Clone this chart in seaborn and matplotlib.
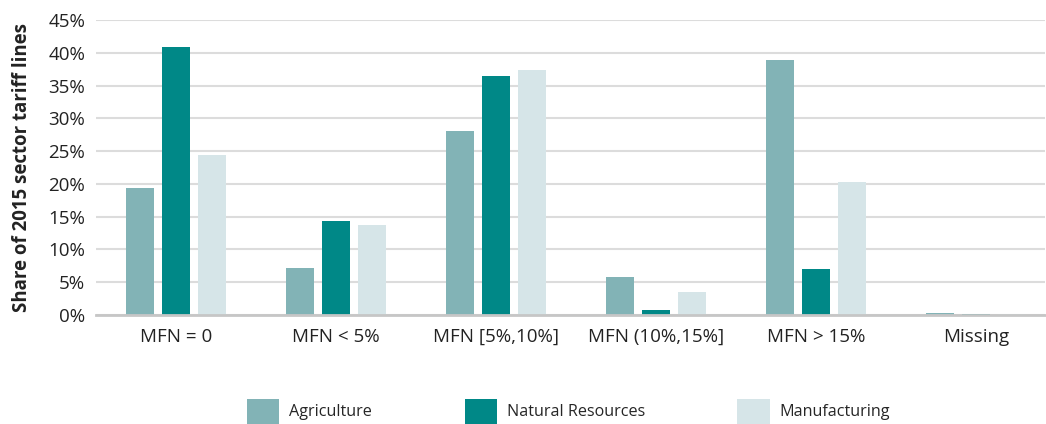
import matplotlib
matplotlib.use("Agg")
import matplotlib.pyplot as plt
import seaborn as sns
import pandas as pd
from matplotlib.ticker import FuncFormatter

categories = ["MFN = 0", "MFN < 5%", "MFN [5%,10%]", "MFN (10%,15%]", "MFN > 15%", "Missing"]
sectors = ["Agriculture", "Natural Resources", "Manufacturing"]
agriculture = [19.4, 7.2, 28.0, 5.8, 38.9, 0.3]
natural_resources = [40.9, 14.3, 36.4, 0.8, 7.0, 0.2]
manufacturing = [24.4, 13.7, 37.3, 3.5, 20.3, 0.1]
colors = ["#82B3B6", "#008887", "#D6E5E8"]

rows = []
for sec, vals in zip(sectors, [agriculture, natural_resources, manufacturing]):
    for c, v in zip(categories, vals):
        rows.append({"Category": c, "Sector": sec, "Value": v})
df = pd.DataFrame(rows)

sns.set_theme(style="white")
plt.rcParams["font.family"] = ["Open Sans", "DejaVu Sans"]

fig = plt.figure(figsize=(10.46, 4.24), dpi=100)
ax = fig.add_axes([0.092, 0.257, 0.907, 0.696])

sns.barplot(data=df, x="Category", y="Value", hue="Sector", order=categories,
            hue_order=sectors, palette=colors, width=0.675, gap=0.21,
            saturation=1, ax=ax, legend=True, linewidth=0, zorder=2)

ax.set_ylim(0, 45)
ax.set_xlim(-0.5, 5.43)
ax.set_yticks(range(0, 46, 5))
ax.yaxis.set_major_formatter(FuncFormatter(lambda v, p: f"{int(v)}%"))
ax.grid(axis="y", color="#dcdcdc", linewidth=1.5, zorder=0)
ax.set_axisbelow(True)
for s in ["top", "right", "left"]:
    ax.spines[s].set_visible(False)
ax.spines["bottom"].set_color("#c6c6c6")
ax.spines["bottom"].set_linewidth(2)
ax.tick_params(axis="both", length=0, labelsize=13.5, colors="#222222")
ax.tick_params(axis="x", pad=9)
ax.tick_params(axis="y", pad=8)
ax.set_xlabel("")
ax.set_ylabel("Share of 2015 sector tariff lines", fontsize=13.4,
              fontweight="bold", color="#222222", labelpad=12)

handles, labels = ax.get_legend_handles_labels()
ax.get_legend().remove()
fig.legend(handles, labels, loc="center", bbox_to_anchor=(0.5435, 0.03),
           ncol=3, frameon=False, fontsize=11.6, handlelength=2.0,
           handleheight=2.0, handletextpad=0.6, columnspacing=5.75)

fig.savefig("out.png", dpi=100)
